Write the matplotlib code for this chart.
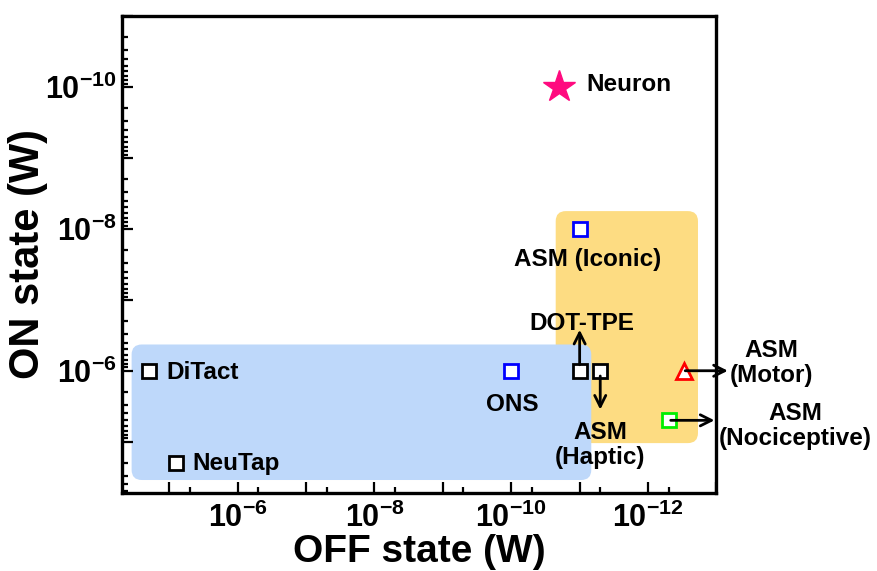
import numpy as np
import matplotlib
matplotlib.use('Agg')
import matplotlib.pyplot as plt
from matplotlib.patches import FancyBboxPatch
from matplotlib.ticker import LogLocator, FuncFormatter, NullFormatter

plt.rcParams['font.family'] = 'Liberation Sans'
plt.rcParams['font.weight'] = 'bold'
plt.rcParams['mathtext.fontset'] = 'custom'
plt.rcParams['mathtext.rm'] = 'Liberation Sans:bold'
plt.rcParams['mathtext.bf'] = 'Liberation Sans:bold'

# devices: OFF-state power, ON-state power (W)
names = ['Neuron', 'ASM (Iconic)', 'DiTact', 'NeuTap', 'ONS',
         'DOT-TPE', 'ASM\n(Haptic)', 'ASM\n(Motor)', 'ASM\n(Nociceptive)']
off_w = [2e-11, 1e-11, 2e-5, 8e-6, 1e-10, 1e-11, 5e-12, 3e-13, 5e-13]
on_w = [1e-10, 1e-8, 1e-6, 2e-5, 1e-6, 1e-6, 1e-6, 1e-6, 5e-6]

# shaded groups (log10 extents): x0, x1, y0, y1
blue_box = (-4.45, -11.17, -6.37, -4.46)
orange_box = (-10.65, -12.73, -8.25, -4.98)

xlim = (10**-4.31, 1e-13)
ylim = (10**-4.28, 1e-11)

fig = plt.figure(figsize=(8.78, 5.71), dpi=100)
ax = fig.add_axes([0.139, 0.137, 0.677, 0.835])
ax.set_xscale('log')
ax.set_yscale('log')
ax.set_xlim(xlim)
ax.set_ylim(ylim)

def to_axes(b):
    lx0, lx1 = np.log10(xlim)
    ly0, ly1 = np.log10(ylim)
    fx = [(v - lx0) / (lx1 - lx0) for v in b[:2]]
    fy = [(v - ly0) / (ly1 - ly0) for v in b[2:]]
    return min(fx), min(fy), abs(fx[1] - fx[0]), abs(fy[1] - fy[0])

asp = 594 / 477
for b, c in [(orange_box, '#FDDC82'), (blue_box, '#BED8FA')]:
    x0, y0, w, h = to_axes(b)
    ax.add_patch(FancyBboxPatch((x0, y0), w, h, boxstyle='round,pad=0,rounding_size=0.017',
                                mutation_aspect=asp, transform=ax.transAxes,
                                facecolor=c, edgecolor='none', zorder=1))

# markers
sq = dict(marker='s', ms=9.5, mfc='white', mew=2, ls='none', zorder=5)
ax.plot(off_w[0], on_w[0], marker='*', ms=24, color='#FF0A7F', mec='#FF0A7F', ls='none', zorder=5)
ax.plot(off_w[1], on_w[1], mec='#0000FF', **sq)
ax.plot(off_w[2:4], on_w[2:4], mec='black', **sq)
ax.plot(off_w[4], on_w[4], mec='#0000FF', **sq)
ax.plot(off_w[5:7], on_w[5:7], mec='black', **sq)
ax.plot(off_w[7], on_w[7], marker='^', ms=12, mfc='white', mec='#FF0000', mew=2, ls='none', zorder=5)
ax.plot(off_w[8], on_w[8], mec='#00EE00', **sq)

# label offsets (points) and alignment
offsets = [(20, 1.4, 'left'), (5.8, -22.3, 'center'), (13, -1, 'left'), (12, 0, 'left'),
           (1, -24.5, 'center'), (1.7, 34.3, 'center'), (0, -53.7, 'center'),
           (63, 5.5, 'center'), (91, -4.1, 'center')]
for n, x, y, (dx, dy, ha) in zip(names, off_w, on_w, offsets):
    ax.annotate(n, (x, y), xytext=(dx, dy), textcoords='offset points', ha=ha, va='center',
                fontsize=17.5, fontweight='bold', linespacing=1.1, annotation_clip=False, zorder=6)

# arrows: (index, head offset in points, shrink at point)
arrows = [(5, (0, 29.5), 4.3), (6, (0, -28), 3.8), (7, (31.7, 0), 1), (8, (33, 0), 1.5)]
for i, (dx, dy), s in arrows:
    ax.annotate('', (off_w[i], on_w[i]), xytext=(dx, dy), textcoords='offset points',
                arrowprops=dict(arrowstyle='<-,head_length=0.8,head_width=0.4', lw=2,
                                color='black', shrinkA=0, shrinkB=s),
                annotation_clip=False, zorder=6)

def make_fmt(lim):
    lo, hi = min(lim), max(lim)
    def fmt(v, pos):
        if v < lo or v > hi:
            return ''
        e = int(round(np.log10(v)))
        return r'$\mathbf{10^{%d}}$' % e if e % 2 == 0 else ''
    return FuncFormatter(fmt)

for axis, lim in ((ax.xaxis, xlim), (ax.yaxis, ylim)):
    axis.set_major_locator(LogLocator(base=10, numticks=20))
    axis.set_major_formatter(make_fmt(lim))
    axis.set_minor_formatter(NullFormatter())
ax.xaxis.set_minor_locator(LogLocator(base=10, subs=[5], numticks=20))
ax.yaxis.set_minor_locator(LogLocator(base=10, subs=np.arange(2, 10), numticks=20))

ax.tick_params(which='both', direction='in', width=1.6, labelsize=22)
ax.tick_params(which='major', length=8)
ax.tick_params(which='minor', length=4.5)
ax.tick_params(axis='x', pad=7)
ax.tick_params(axis='y', pad=4)
for sp in ax.spines.values():
    sp.set_linewidth(2.4)

ax.set_xlabel('OFF state (W)', fontsize=28, fontweight='bold', labelpad=0)
ax.set_ylabel('ON state (W)', fontsize=30, fontweight='bold', labelpad=-2)

fig.savefig('out.png', dpi=100)
